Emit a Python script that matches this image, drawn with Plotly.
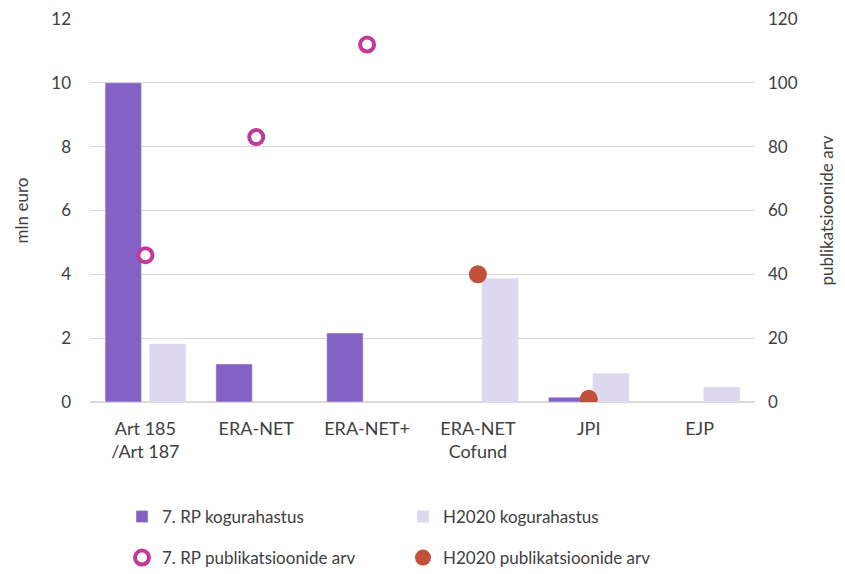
import plotly.graph_objects as go

categories = ["Art 185<br>/Art 187", "ERA-NET", "ERA-NET+", "ERA-NET<br>Cofund", "JPI", "EJP"]
rp7_funding = [10.0, 1.19, 2.16, None, 0.15, None]
h2020_funding = [1.82, None, None, 3.87, 0.9, 0.47]
rp7_pubs = [46, 83, 112, None, None, None]
h2020_pubs = [None, None, None, 40, 1, None]

font_family = "Lato, 'Open Sans', sans-serif"
txt = "#404040"
fs = 17

fig = go.Figure()
fig.add_trace(go.Bar(x=categories, y=rp7_funding, name="7. RP kogurahastus",
                     marker_color="#8461C5", yaxis="y", legend="legend"))
fig.add_trace(go.Bar(x=categories, y=h2020_funding, name="H2020 kogurahastus",
                     marker_color="#DED7F0", yaxis="y", legend="legend"))
fig.add_trace(go.Scatter(x=categories, y=rp7_pubs, name="7. RP publikatsioonide arv",
                         mode="markers", yaxis="y2", legend="legend2",
                         marker=dict(symbol="circle", size=14, color="white",
                                     line=dict(color="#C2399C", width=4))))
fig.add_trace(go.Scatter(x=categories, y=h2020_pubs, name="H2020 publikatsioonide arv",
                         mode="markers", yaxis="y2", legend="legend2",
                         marker=dict(symbol="circle", size=18, color="#C0503A",
                                     line=dict(width=0))))

leg_common = dict(orientation="h", xref="container", yref="container",
                  x=122/845, xanchor="left", yanchor="middle",
                  entrywidth=236, font=dict(size=fs, color=txt),
                  bgcolor="rgba(0,0,0,0)")

fig.update_layout(
    width=845, height=574,
    margin=dict(l=90, r=90, t=19, b=172, autoexpand=False),
    paper_bgcolor="white", plot_bgcolor="white",
    font=dict(family=font_family, size=fs, color=txt),
    barmode="group", bargap=0.2, bargroupgap=0.18,
    xaxis=dict(showgrid=False, showline=False, ticks="", tickfont=dict(size=18, color=txt),
               ticklabelstandoff=14),
    yaxis=dict(range=[0, 12], dtick=2, showgrid=True, gridcolor="#D9D9D9", gridwidth=1,
               zeroline=True, zerolinecolor="#D9D9D9", zerolinewidth=1.5,
               title=dict(text="mln euro", font=dict(size=fs, color=txt), standoff=18),
               tickfont=dict(size=fs, color=txt), ticklabelstandoff=18),
    yaxis2=dict(range=[0, 120], dtick=20, overlaying="y", side="right", showgrid=False,
                zeroline=False,
                title=dict(text="publikatsioonide arv", font=dict(size=fs, color=txt), standoff=24),
                tickfont=dict(size=fs, color=txt), ticklabelstandoff=12),
    legend=dict(leg_common, y=1 - 517/574),
    legend2=dict(leg_common, y=1 - 558/574),
    showlegend=True,
)

fig.write_html("out.html", config={"displayModeBar": False},
               post_script="document.body.style.margin='0';")
